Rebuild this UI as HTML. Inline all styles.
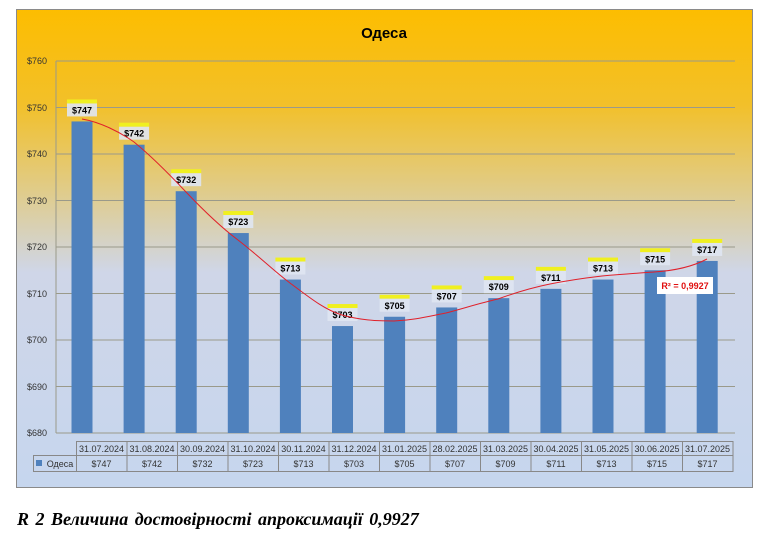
<!DOCTYPE html>
<html><head><meta charset="utf-8"><style>
body{margin:0;width:761px;height:535px;background:#fff;overflow:hidden;font-family:"Liberation Sans",sans-serif}
.cap{position:absolute;left:17px;top:509px;font:bold italic 18px "Liberation Serif",serif;color:#000;word-spacing:2px}
</style></head><body>
<svg width="761" height="535" style="position:absolute;left:0;top:0" font-family="Liberation Sans, sans-serif">
<defs><linearGradient id="bg" x1="0" y1="0" x2="0" y2="1">
<stop offset="0" stop-color="#fdbd00"/><stop offset="0.2" stop-color="#f2c02a"/><stop offset="0.38" stop-color="#e0cc8a"/><stop offset="0.55" stop-color="#cfd6e8"/><stop offset="1" stop-color="#c6d6ee"/></linearGradient></defs>
<rect x="16.5" y="9.5" width="736" height="478" fill="url(#bg)" stroke="#8a8a8a"/>
<text x="384" y="38" font-size="15" font-weight="bold" text-anchor="middle">Одеса</text>
<g stroke="#9a9a8a" stroke-width="1">
<line x1="56" y1="61" x2="735" y2="61"/><line x1="56" y1="107.5" x2="735" y2="107.5"/><line x1="56" y1="154" x2="735" y2="154"/><line x1="56" y1="200.5" x2="735" y2="200.5"/><line x1="56" y1="247" x2="735" y2="247"/><line x1="56" y1="293.5" x2="735" y2="293.5"/><line x1="56" y1="340" x2="735" y2="340"/><line x1="56" y1="386.5" x2="735" y2="386.5"/><line x1="56" y1="433" x2="735" y2="433"/>
<line x1="56" y1="61" x2="56" y2="433"/></g>
<g font-size="9" fill="#333" text-anchor="end">
<text x="47" y="64">$760</text><text x="47" y="111">$750</text><text x="47" y="157">$740</text><text x="47" y="204">$730</text><text x="47" y="250">$720</text><text x="47" y="297">$710</text><text x="47" y="343">$700</text><text x="47" y="390">$690</text><text x="47" y="436">$680</text></g>
<g id="bars"></g>
<path d="M82,119 C100,122 120,132 134,142 C150,155 170,175 186,192 C205,212 222,228 238,240 C260,257 275,272 290,283 C310,298 325,310 342,315 C360,320 375,321 394,321 C415,320 430,316 446,313 C465,308 480,303 498,299 C520,291 535,287 550,284 C570,280 585,278 602,276 C625,274 640,273 654,272 C670,271 690,268 707,259" fill="none" stroke="#e0202a" stroke-width="1"/>
<rect x="657" y="277" width="56" height="17" fill="#fff"/>
<text x="685" y="289" font-size="9" font-weight="bold" fill="#e01010" text-anchor="middle">R² = 0,9927</text>
<g id="tbl" font-size="9" fill="#333" text-anchor="middle"></g>
</svg>
<div class="cap">R 2 Величина достовірності апроксимації 0,9927</div>
<script>
var v=[747,742,732,723,713,703,705,707,709,711,713,715,717];
var d=["31.07.2024","31.08.2024","30.09.2024","31.10.2024","30.11.2024","31.12.2024","31.01.2025","28.02.2025","31.03.2025","30.04.2025","31.05.2025","30.06.2025","31.07.2025"];
var ns="http://www.w3.org/2000/svg",b=document.getElementById("bars"),t=document.getElementById("tbl");
function el(p,n,a,tx){var e=document.createElementNS(ns,n);for(var k in a)e.setAttribute(k,a[k]);if(tx)e.textContent=tx;p.appendChild(e);return e;}
v.forEach(function(x,i){var cx=82+i*52.1,y=433-(x-680)*4.65;
el(b,"rect",{x:cx-10.5,y:y,width:21,height:433-y,fill:"#4f81bd"});
el(b,"rect",{x:cx-15,y:y-22,width:30,height:4,fill:"#f0f020"});
el(b,"rect",{x:cx-15,y:y-18,width:30,height:13,fill:"#dfe6f2",opacity:0.9});
el(b,"text",{x:cx,y:y-8,"font-size":9,"font-weight":"bold","text-anchor":"middle",fill:"#000"},"$"+x);
var c=76+i*50.5;
el(t,"rect",{x:c+0.5,y:441.5,width:50.5,height:14,fill:"none",stroke:"#888"});
el(t,"rect",{x:c+0.5,y:455.5,width:50.5,height:16,fill:"none",stroke:"#888"});
el(t,"text",{x:c+25.5,y:452},d[i]);el(t,"text",{x:c+25.5,y:467},"$"+x);});
el(t,"rect",{x:33.5,y:455.5,width:43,height:16,fill:"none",stroke:"#888"});
el(t,"rect",{x:36,y:460,width:6,height:6,fill:"#4f81bd"});
el(t,"text",{x:60,y:467},"Одеса");
</script>
</body></html>
